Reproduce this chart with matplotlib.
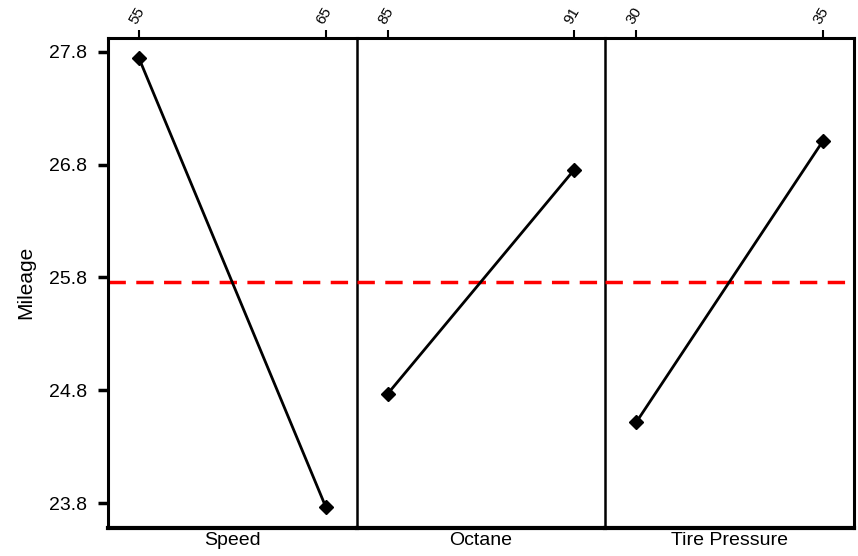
import matplotlib
matplotlib.use("Agg")
import matplotlib.pyplot as plt
from matplotlib import font_manager

factors = ["Speed", "Octane", "Tire Pressure"]
levels = [[55, 65], [85, 91], [30, 35]]
means = [[27.74, 23.77], [24.77, 26.755], [24.52, 27.01]]
grand_mean = 25.76
yticks = [23.8, 24.8, 25.8, 26.8, 27.8]
ytick_labels = ["23.8", "24.8", "25.8", "26.8", "27.8"]
ylabel = "Mileage"

names = {f.name for f in font_manager.fontManager.ttflist}
narrow = ["Liberation Sans Narrow", "Liberation Sans"] if "Liberation Sans Narrow" in names else ["Liberation Sans"]

fig = plt.figure(figsize=(8.58, 5.56), dpi=100)
left, bottom, width, height = 108 / 858, 1 - 528 / 556, 248.7 / 858, (528 - 37.7) / 556
axes = []
for i in range(3):
    ax = fig.add_axes([left + i * width, bottom, width, height])
    ax.patch.set_alpha(0)
    axes.append(ax)

for i, ax in enumerate(axes):
    x = levels[i]
    y = means[i]
    rng = x[1] - x[0]
    ax.set_xlim(x[0] - rng / 6, x[1] + rng / 6)
    ax.set_ylim(23.58, 27.924)
    ax.axhline(grand_mean, color="#ff0000", lw=2.5, ls=(0, (5, 3)), zorder=1)
    ax.plot(x, y, color="black", lw=2, marker="D", markersize=7, zorder=3)
    ax.xaxis.tick_top()
    ax.set_xticks(x)
    ax.set_xticklabels([str(v) for v in x], rotation=60, family=narrow, fontsize=11,
                       ha="left", va="bottom", rotation_mode="anchor")
    ax.tick_params(axis="x", which="both", direction="out", length=6, width=1.5, pad=2,
                   top=True, bottom=False)
    ax.xaxis.set_label_position("bottom")
    ax.set_xlabel(factors[i], family=narrow, fontsize=14, labelpad=3)
    ax.set_yticks(yticks)
    for side in ["top", "bottom", "left", "right"]:
        ax.spines[side].set_color("black")
        ax.spines[side].set_zorder(5)
    ax.spines["top"].set_linewidth(2.2)
    ax.spines["bottom"].set_linewidth(3)
    ax.spines["right"].set_linewidth(1.8 if i < 2 else 2.2)
    if i == 0:
        ax.spines["left"].set_linewidth(2.2)
        ax.set_yticklabels(ytick_labels, family=narrow, fontsize=14)
        ax.tick_params(axis="y", direction="out", length=7, width=2.5, pad=8)
        ax.set_ylabel(ylabel, family=["Liberation Sans"], fontsize=15, labelpad=10)
    else:
        ax.spines["left"].set_visible(False)
        ax.tick_params(axis="y", left=False, labelleft=False)

fig.savefig("out.png", dpi=100)
